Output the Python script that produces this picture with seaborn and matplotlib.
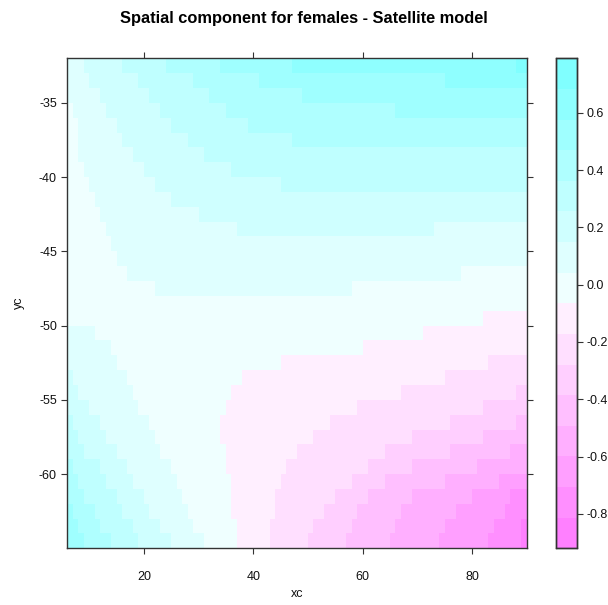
import numpy as np
import pandas as pd
import matplotlib
matplotlib.use("Agg")
import matplotlib.pyplot as plt
from matplotlib.colors import ListedColormap, hsv_to_rgb
import seaborn as sns

# ---------------- data ----------------
title = "Spatial component for females - Satellite model"
x_label = "xc"
y_label = "yc"
x_ticks = [20, 40, 60, 80]
y_ticks = [-35, -40, -45, -50, -55, -60]
cbar_ticks = [0.6, 0.4, 0.2, 0.0, -0.2, -0.4, -0.6, -0.8]
z_min, z_max = -0.92, 0.79          # colour key range
n_levels = 16                       # number of colour bands
x_left, x_right = 6, 90             # grid extent in xc (1-degree cells)
y_top, y_bottom = -32, -65          # grid extent in yc (1-degree cells)

# each row (top -> bottom): "start_xc:band" runs, band 0 = most magenta, 15 = most cyan
row_runs = [
    "6:9 9:10 16:11 24:12 34:13 47:14 88:15",
    "6:9 10:10 19:11 29:12 41:13 75:14",
    "6:9 12:10 21:11 32:12 49:13",
    "6:8 7:9 13:10 23:11 35:12 66:13",
    "6:8 8:9 15:10 25:11 39:12",
    "6:8 8:9 16:10 28:11 47:12",
    "6:8 8:9 18:10 31:11",
    "6:8 9:9 20:10 36:11",
    "6:8 10:9 22:10 45:11",
    "6:8 11:9 25:10",
    "6:8 12:9 30:10",
    "6:8 13:9 37:10 73:9",
    "6:8 14:9",
    "6:8 15:9",
    "6:8 17:9 78:8",
    "6:8 22:9 58:8",
    "6:8",
    "6:8 82:7",
    "6:9 11:8 71:7",
    "6:9 14:8 60:7",
    "6:9 15:8 45:7 83:6",
    "6:10 7:9 17:8 38:7 75:6",
    "6:10 8:9 18:8 36:7 67:6 88:5",
    "6:10 10:9 19:8 35:7 59:6 82:5",
    "6:11 7:10 12:9 21:8 34:7 54:6 76:5 88:4",
    "6:11 8:10 13:9 22:8 34:7 51:6 69:5 82:4",
    "6:11 9:10 15:9 23:8 35:7 48:6 64:5 76:4 87:3",
    "6:12 7:11 12:10 17:9 25:8 35:7 46:6 61:5 69:4 81:3",
    "6:12 8:11 13:10 18:9 26:8 36:7 45:6 58:5 64:4 75:3 85:2",
    "6:12 9:11 15:10 20:9 27:8 36:7 44:6 55:5 61:4 69:3 80:2 87:1",
    "6:13 7:12 11:11 16:10 21:9 28:8 36:7 44:6 53:5 59:4 67:3 77:2 86:1",
    "6:13 8:12 12:11 18:10 23:9 29:8 37:7 43:6 51:5 58:4 66:3 75:2 84:1 89:0",
    "6:13 9:12 14:11 19:10 25:9 31:8 37:7 43:6 50:5 57:4 65:3 74:2 83:1 89:0",
]

# ---------------- build the grid ----------------
xc_centers = np.arange(x_left + 0.5, x_right, 1.0)
yc_centers = np.arange(y_top - 0.5, y_bottom, -1.0)
step = (z_max - z_min) / n_levels
z = np.full((len(yc_centers), len(xc_centers)), np.nan)
for r, s in enumerate(row_runs):
    runs = [tuple(int(v) for v in t.split(":")) for t in s.split()]
    for i, (start, band) in enumerate(runs):
        end = runs[i + 1][0] if i + 1 < len(runs) else x_right
        z[r, start - x_left:end - x_left] = z_min + (band + 0.5) * step
df = pd.DataFrame(z, index=yc_centers, columns=xc_centers)

# R's rev(cm.colors(16)) : magenta (low) -> white -> cyan (high)
cols = []
for b in range(n_levels):
    half = n_levels // 2
    if b >= half:
        cols.append(hsv_to_rgb((6 / 12, 0.5 * (b - half + 1) / half, 1.0)))
    else:
        cols.append(hsv_to_rgb((10 / 12, 0.5 * (half - b) / half, 1.0)))
cmap = ListedColormap(cols)

# ---------------- figure ----------------
plt.rcParams["font.family"] = ["Liberation Sans", "DejaVu Sans"]
plt.rcParams["axes.unicode_minus"] = False

W, H = 608, 605
fig = plt.figure(figsize=(W / 100, H / 100), dpi=100)
ax = fig.add_axes([67.3 / W, 1 - 548.3 / H, (526.7 - 67.3) / W, (548.3 - 58.3) / H])
cax = fig.add_axes([555.5 / W, 1 - 548.3 / H, 21.5 / W, (548.3 - 58.3) / H])

sns.heatmap(df, ax=ax, cbar_ax=cax, cmap=cmap, vmin=z_min, vmax=z_max,
            linewidths=0, xticklabels=False, yticklabels=False)

for sp in ax.spines.values():
    sp.set_visible(True)
    sp.set_linewidth(1.0)
    sp.set_color("#333333")

ax.set_xticks([v - x_left for v in x_ticks])
ax.set_xticklabels([str(v) for v in x_ticks], rotation=0)
ax.set_yticks([y_top - v for v in y_ticks])
ax.set_yticklabels([str(v) for v in y_ticks], rotation=0)
ax.tick_params(axis="both", direction="out", length=4.5, width=0.8, color="#333333",
               labelsize=9, labelcolor="#111111", top=True, right=True,
               labeltop=False, labelright=False)
ax.tick_params(axis="x", pad=12)
ax.tick_params(axis="y", pad=3)
ax.set_xlabel("")
ax.set_ylabel("")

# colour key
cax.set_yticks(cbar_ticks)
cax.set_yticklabels([f"{v:.1f}" for v in cbar_ticks])
cax.tick_params(axis="y", direction="out", length=4.5, width=0.8, color="#333333",
                labelsize=9, labelcolor="#111111", pad=2, right=True, left=False)
for sp in cax.spines.values():
    sp.set_visible(True)
    sp.set_linewidth(1.0)
    sp.set_color("#333333")
cb = ax.collections[0].colorbar
cb.outline.set_linewidth(1.0)
cb.outline.set_edgecolor("#333333")

fig.text(0.5, 1 - 18 / H, title, ha="center", va="center", fontsize=11.8, fontweight="bold")
fig.text(297 / W, 1 - 594 / H, x_label, ha="center", va="center", fontsize=9, color="#111111")
fig.text(19 / W, 1 - 303 / H, y_label, ha="center", va="center", fontsize=9, rotation=90,
         color="#111111")

fig.savefig("out.png", dpi=100)
